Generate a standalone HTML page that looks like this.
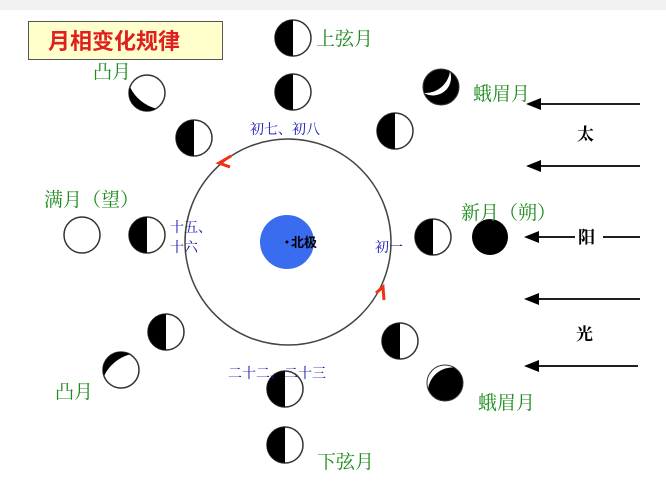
<!DOCTYPE html><html><head><meta charset="utf-8"><style>
body{margin:0;background:#fff}
svg{display:block}
.g{fill:#1a8a1a;font-family:"Liberation Serif","Noto Serif CJK SC",serif;font-size:19px}
.b{fill:#1010b0;font-family:"Liberation Serif","Noto Serif CJK SC",serif;font-size:14px}
</style></head><body>
<svg width="666" height="486" viewBox="0 0 666 486">
<rect width="666" height="10" fill="#f2f2f2"/>
<defs>
<g id="h"><circle r="18" fill="#fff" stroke="#333" stroke-width="1.5"/><path d="M0,-18 A18,18 0 0 0 0,18 Z" fill="#000"/></g>
</defs>
<circle cx="288" cy="242" r="103" fill="none" stroke="#444" stroke-width="1.5"/>
<circle cx="287" cy="242" r="27" fill="#3a6cf0"/>
<circle cx="287" cy="242" r="1.5" fill="#000"/>
<text x="291" y="247" font-family="Liberation Sans,Noto Sans CJK SC,sans-serif" font-size="13" font-weight="bold">北极</text>
<use href="#h" x="293" y="38"/><use href="#h" x="293" y="92"/><use href="#h" x="194" y="138"/>
<use href="#h" x="395" y="131"/><use href="#h" x="147" y="235"/><use href="#h" x="433" y="237"/>
<use href="#h" x="166" y="332"/><use href="#h" x="400" y="341"/><use href="#h" x="285" y="389"/>
<use href="#h" x="285" y="445"/>
<circle cx="82" cy="235" r="18" fill="#fff" stroke="#333" stroke-width="1.5"/>
<circle cx="490" cy="237" r="18" fill="#000"/>
<g transform="translate(147,93)"><circle r="18" fill="#fff" stroke="#333" stroke-width="1.5"/><path d="M-17,-6 A18,18 0 0 0 9,15.6 A40,40 0 0 1 -17,-6Z" fill="#000"/></g>
<g transform="translate(441,87)"><circle r="18" fill="#000"/><path d="M9,-15.6 A18,18 0 0 1 -17,6 A25,25 0 0 0 9,-15.6Z" fill="#fff"/><circle r="18" fill="none" stroke="#333" stroke-width="1"/></g>
<g transform="translate(121,370)"><circle r="18" fill="#fff" stroke="#333" stroke-width="1.5"/><path d="M-17,6 A18,18 0 0 1 9,-15.6 A40,40 0 0 0 -17,6Z" fill="#000"/></g>
<g transform="translate(445,383)"><circle r="18" fill="#000"/><path d="M-17,6 A18,18 0 0 1 9,-15.6 A25,25 0 0 0 -17,6Z" fill="#fff"/><circle r="18" fill="none" stroke="#333" stroke-width="1"/></g>
<g stroke="#000" stroke-width="1.8">
<line x1="640" y1="104" x2="535" y2="104"/><line x1="640" y1="166" x2="535" y2="166"/>
<line x1="640" y1="237" x2="603" y2="237"/><line x1="575" y1="237" x2="533" y2="237"/>
<line x1="640" y1="299" x2="533" y2="299"/><line x1="638" y1="366" x2="533" y2="366"/>
</g>
<g fill="#000">
<polygon points="526,104 541,98 541,110"/><polygon points="526,166 541,160 541,172"/>
<polygon points="524,237 539,231 539,243"/><polygon points="524,299 539,293 539,305"/>
<polygon points="524,366 539,360 539,372"/>
</g>
<g font-family="Liberation Serif,Noto Serif CJK SC,serif" font-size="17" font-weight="bold">
<text x="577" y="140">太</text><text x="578" y="243">阳</text><text x="576" y="340">光</text></g>
<rect x="28.5" y="21.5" width="194" height="38" fill="#ffffcc" stroke="#555"/>
<text x="48" y="49" fill="#e02020" font-family="Liberation Sans,Noto Sans CJK SC,sans-serif" font-size="22" font-weight="bold">月相变化规律</text>
<text class="g" x="316" y="45">上弦月</text>
<text class="g" x="93" y="78">凸月</text>
<text class="g" x="473" y="100">蛾眉月</text>
<text class="g" x="44" y="206">满月（望）</text>
<text class="g" x="461" y="219">新月（朔）</text>
<text class="g" x="55" y="398">凸月</text>
<text class="g" x="478" y="409">蛾眉月</text>
<text class="g" x="317" y="468">下弦月</text>
<text class="b" x="250" y="134">初七、初八</text>
<text class="b" x="170" y="232">十五、</text>
<text class="b" x="170" y="252">十六</text>
<text class="b" x="375" y="252">初一</text>
<text class="b" x="228" y="378">二十二、二十三</text>
<path d="M231,156 L219,163 L230,167" fill="none" stroke="#f03010" stroke-width="3"/>
<path d="M376,293 L383,287 L384,300" fill="none" stroke="#f03010" stroke-width="3"/>
</svg>
</body></html>
